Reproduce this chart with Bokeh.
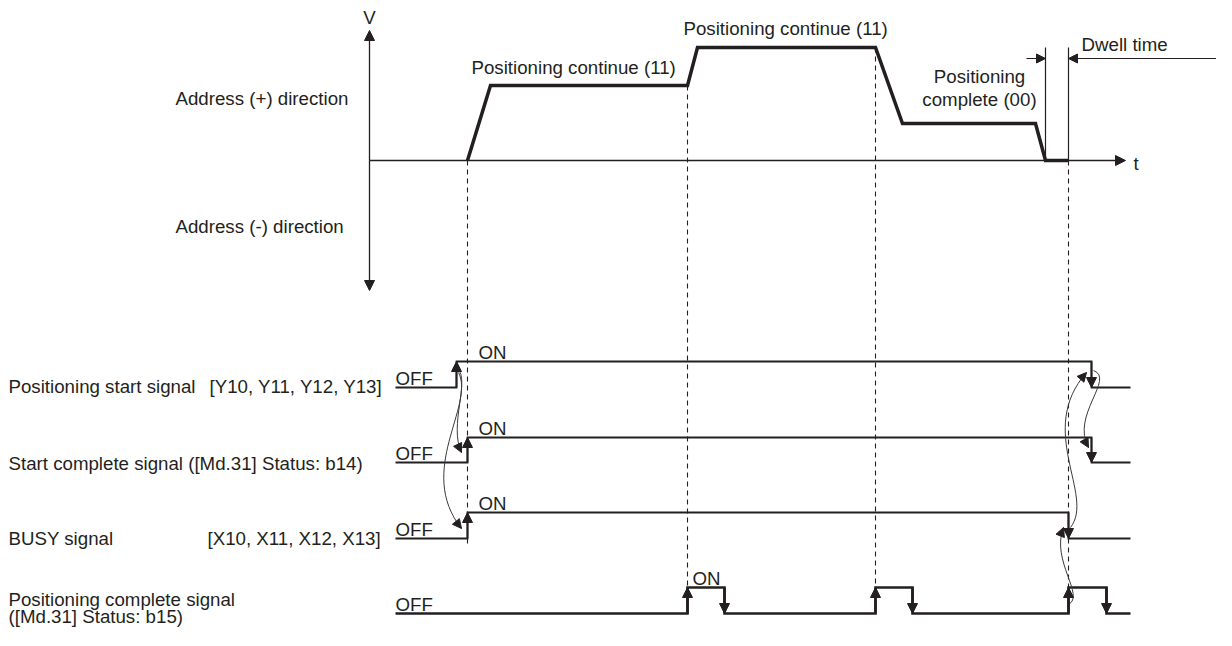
from bokeh.plotting import figure
from bokeh.models import Range1d, Arrow, NormalHead, ColumnDataSource
from bokeh.core.properties import value
from bokeh.embed import file_html
from bokeh.resources import INLINE

# ---------------- data (diagram units) ----------------
# speed profile: time points and speed levels (y grows downward)
profile_t = [467, 490, 687, 697, 875, 902, 1035, 1045, 1068]
profile_v = [160, 85, 85, 47, 47, 123, 123, 160, 160]

# axes of the speed chart
v_axis_x = 369
v_axis_top = 30
v_axis_bottom = 290
t_axis_y = 160
t_axis_end = 1125

# dashed guide lines: time, top, bottom
guide_t = [467, 687, 875, 1068]
guide_top = [160, 85, 47, 160]
guide_bottom = [545, 587, 587, 587]

# dwell time markers
dwell_start = 1045
dwell_end = 1068
dwell_top = 47
dwell_arrow_y = 58

# signals
signal_x0 = 395
signal_x1 = 1130
signal_off_y = [387, 462, 538, 613]
signal_on_y = [361, 437, 512, 587]
signal_edges = [
    [456, 1091],
    [467, 1091],
    [467, 1068],
    [687, 724, 875, 912, 1068, 1106],
]
signal_widths = [1.8, 1.8, 1.8, 2.6]

signal_labels = [
    "Positioning start signal",
    "Start complete signal ([Md.31] Status: b14)",
    "BUSY signal",
    "Positioning complete signal",
]
signal_label_y = [386, 463, 538, 599]
device_labels = ["[Y10, Y11, Y12, Y13]", "[X10, X11, X12, X13]"]
device_label_x = [209, 207]
device_label_y = [386, 538]
on_label_x = [478, 478, 478, 692]

# speed chart labels
speed_labels = ["Positioning continue (11)", "Positioning continue (11)"]
speed_label_x = [471, 683]
speed_label_y = [67, 28]

INK = "#231f20"
FONT = value("Liberation Sans")
FS = "18.7px"

p = figure(width=1216, height=630, x_range=Range1d(0, 1216), y_range=Range1d(630, 0),
           output_backend="svg", toolbar_location=None, min_border=0,
           x_axis_location=None, y_axis_location=None)
p.outline_line_color = None
p.grid.grid_line_color = None
p.background_fill_color = "white"


def head_arrow(x0, y0, x1, y1, lw=1.3, size=10, color=INK):
    p.add_layout(Arrow(end=NormalHead(size=size, fill_color=color, line_color=color, line_width=1),
                       x_start=x0, y_start=y0, x_end=x1, y_end=y1,
                       line_color=color, line_width=lw))


# ---- speed chart axes ----
head_arrow(v_axis_x, t_axis_y, v_axis_x, v_axis_top, lw=1.3)
head_arrow(v_axis_x, t_axis_y, v_axis_x, v_axis_bottom, lw=1.3)
head_arrow(v_axis_x, t_axis_y, t_axis_end, t_axis_y, lw=1.3)

# dashed guides
p.segment(x0=guide_t, y0=guide_top, x1=guide_t, y1=guide_bottom,
          line_color=INK, line_width=1.1, line_dash="5 4")

# profile
p.line(profile_t, profile_v, line_color=INK, line_width=3.5, line_join="miter")

# dwell markers
p.segment(x0=[dwell_start, dwell_end], y0=[dwell_top, dwell_top],
          x1=[dwell_start, dwell_end], y1=[t_axis_y, t_axis_y], line_color=INK, line_width=1.2)
head_arrow(dwell_start - 19, dwell_arrow_y, dwell_start, dwell_arrow_y, lw=1.2, size=9)
head_arrow(1232, dwell_arrow_y, dwell_end, dwell_arrow_y, lw=1.2, size=9)

# ---- signals ----
for i, edges in enumerate(signal_edges):
    xs = [signal_x0]
    ys = [signal_off_y[i]]
    state = 0
    for e in edges:
        xs += [e, e]
        ys += [ys[-1], signal_on_y[i] if state == 0 else signal_off_y[i]]
        state = 1 - state
    xs.append(signal_x1)
    ys.append(ys[-1])
    p.line(xs, ys, line_color=INK, line_width=signal_widths[i], line_join="miter")
    state = 0
    for e in edges:
        if state == 0:
            head_arrow(e, signal_off_y[i], e, signal_on_y[i], lw=signal_widths[i], size=10)
        else:
            head_arrow(e, signal_on_y[i], e, signal_off_y[i], lw=signal_widths[i], size=10)
        state = 1 - state

# ---- relation curves ----
CURVE = "#3a3a3a"
curves = [
    # x0, y0, cx0, cy0, cx1, cy1, x1, y1
    (457, 368, 470, 380, 448, 425, 461, 452),
    (458, 372, 475, 405, 415, 470, 461, 528),
    (1070, 527, 1095, 495, 1035, 430, 1086, 372),
    (1093, 370, 1115, 378, 1070, 415, 1088, 447),
    (1068, 604, 1085, 595, 1050, 560, 1063, 527),
]
cds = ColumnDataSource(dict(
    x0=[c[0] for c in curves], y0=[c[1] for c in curves],
    cx0=[c[2] for c in curves], cy0=[c[3] for c in curves],
    cx1=[c[4] for c in curves], cy1=[c[5] for c in curves],
    x1=[c[6] for c in curves], y1=[c[7] for c in curves]))
p.bezier(x0="x0", y0="y0", x1="x1", y1="y1", cx0="cx0", cy0="cy0", cx1="cx1", cy1="cy1",
         source=cds, line_color=CURVE, line_width=1)
for c in curves:
    head_arrow(c[4] + (c[6] - c[4]) * 0.85, c[5] + (c[7] - c[5]) * 0.85, c[6], c[7],
               lw=0.1, size=9, color=INK)

# ---- texts ----
def txt(x, y, t, align="left", size=FS):
    p.text(x=x, y=y, text=t, text_font=FONT, text_font_size=size, text_color=INK,
           text_align=align, text_baseline="middle")

txt([v_axis_x], [17], ["V"], align="center")
txt([t_axis_end + 8], [163], ["t"])
txt([175, 175], [98, 226], ["Address (+) direction", "Address (-) direction"])
txt(speed_label_x, speed_label_y, speed_labels)
txt([979, 979], [76, 99], ["Positioning", "complete (00)"], align="center")
txt([1081], [44], ["Dwell time"])

txt([8, 8, 8, 8], signal_label_y, signal_labels)
txt([8], [616], ["([Md.31] Status: b15)"])
txt(device_label_x, device_label_y, device_labels)
txt([signal_x0] * 4, [y - 9 for y in signal_off_y], ["OFF"] * 4)
txt(on_label_x, [y - 9 for y in signal_on_y], ["ON"] * 4)

open("out.html", "w").write(file_html(p, INLINE))
